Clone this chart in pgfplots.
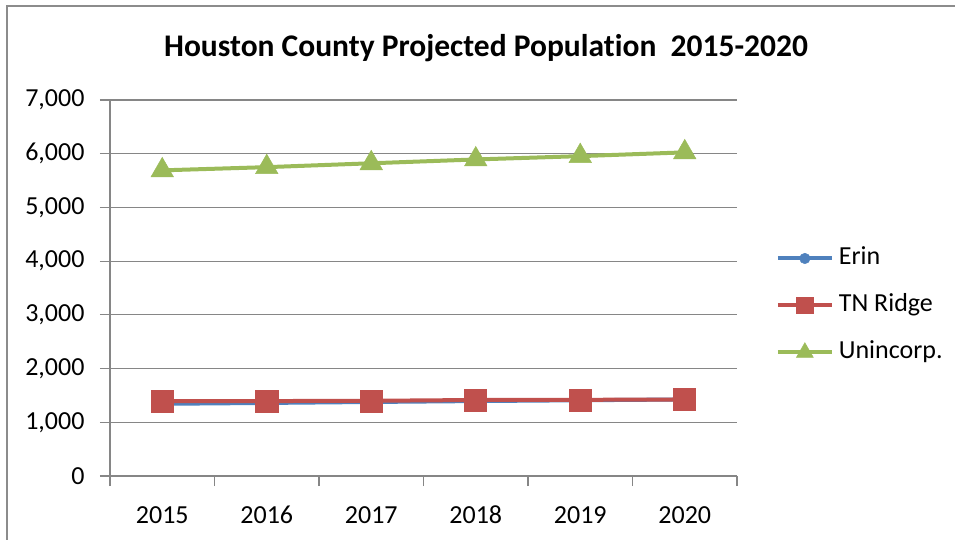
\documentclass[border=0pt]{standalone}
\usepackage{fontspec}
\setmainfont{Carlito}[Ligatures=NoCommon]
\usepackage{pgfplots}
\pgfplotsset{compat=1.18}
\definecolor{erin}{HTML}{4F81BD}
\definecolor{tnr}{HTML}{C0504D}
\definecolor{uni}{HTML}{9BBB59}
\definecolor{gridc}{HTML}{868686}
\definecolor{framec}{HTML}{8C8C8C}
\begin{document}
\begin{tikzpicture}
\draw[framec, line width=2bp] (7bp,-5bp) -- (7bp,534bp) -- (960bp,534bp);
\node[font=\fontsize{31.5bp}{36bp}\selectfont\bfseries] at (486bp,492bp) {Houston County Projected Population\ \ 2015-2020};
\begin{axis}[at={(110bp,64bp)}, anchor=south west, scale only axis, width=627bp, height=376bp,
 xmin=-0.5, xmax=5.5, ymin=0, ymax=7000,
 xtick={-0.5,0.5,...,5.5}, xticklabels={2015,2016,2017,2018,2019,2020}, x tick label as interval,
 ytick={0,1000,...,7000},
 ymajorgrids, grid style={gridc, line width=1.2bp},
 axis x line=bottom, axis y line=left, axis line style={-, gridc, line width=1.2bp},
 tick style={gridc, line width=1.2bp}, major tick length=10bp,
 xtick pos=bottom, ytick pos=left, tick align=outside,
 /pgf/number format/assume math mode=true,
 /pgf/number format/1000 sep={,},
 tick label style={font=\fontsize{26bp}{30bp}\selectfont, black},
 yticklabel style={xshift=-12bp},
 xticklabel style={anchor=base, yshift=-37bp},
 legend style={draw=none, fill=none, inner sep=0pt, outer sep=0pt, at={(1.062,0.4535)}, anchor=west,
   font=\fontsize{26bp}{30bp}\selectfont, row sep=23bp, column sep=5bp,
   nodes={inner sep=0pt, text height=18bp, text depth=6bp}},
 legend cell align=left,
 legend image code/.code={\draw[#1, mark repeat=2, mark phase=2, /tikz/every mark/.append style={scale=0.75}] plot coordinates {(0bp,0bp) (27bp,0bp) (54bp,0bp)};},
 every axis plot/.append style={line width=4bp, mark options={solid, line width=0.5bp}},
]
\addplot[color=erin, mark=*, mark size=7bp] coordinates {(0,1344) (1,1360) (2,1378) (3,1395) (4,1410) (5,1425)};
\addlegendentry{Erin}
\addplot[color=tnr, mark=square*, mark size=11bp] coordinates {(0,1393) (1,1395) (2,1400) (3,1415) (4,1418) (5,1425)};
\addlegendentry{TN Ridge}
\addplot[color=uni, mark=triangle*, mark size=13bp] coordinates {(0,5690) (1,5750) (2,5822) (3,5893) (4,5955) (5,6025)};
\addlegendentry{Unincorp.}
\end{axis}
\pgfresetboundingbox
\path[use as bounding box] (0bp,0bp) rectangle (955bp,540bp);
\end{tikzpicture}
\end{document}
